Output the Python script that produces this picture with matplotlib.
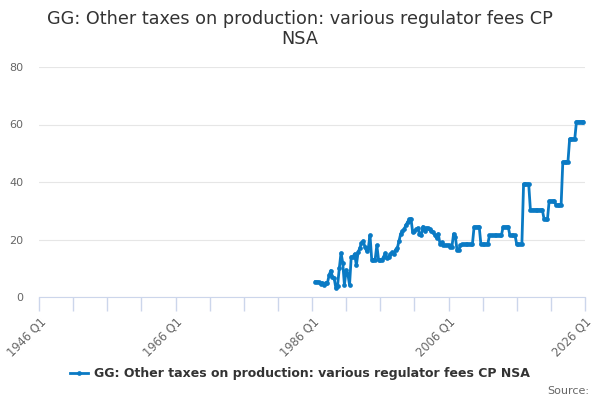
import matplotlib
matplotlib.use("Agg")
import matplotlib.pyplot as plt
from matplotlib.lines import Line2D
import numpy as np

title = "GG: Other taxes on production: various regulator fees CP\nNSA"
series_name = "GG: Other taxes on production: various regulator fees CP NSA"
start_year = 1986
start_quarter = 3

values = [
    5.3, 5.3, 5.2, 4.5, 5.0, 4.2, 5.0, 4.8, 7.5, 9.2,
    7.0, 6.5, 3.0, 4.0, 10.0, 15.3, 12.0, 4.2, 9.4, 8.0,
    4.2, 14.0, 14.0, 15.0, 11.0, 15.5, 17.0, 18.8, 19.5, 17.5,
    16.0, 17.0, 21.5, 13.0, 13.0, 13.0, 18.0, 13.0, 13.0, 13.0,
    14.0, 15.3, 13.5, 14.0, 15.0, 15.5, 15.0, 16.5, 17.0, 19.5,
    22.0, 23.0, 23.5, 25.0, 26.0, 27.0, 27.3, 22.5, 23.0, 23.5,
    24.0, 22.0, 21.5, 24.5, 23.0, 24.0, 24.0, 23.5, 23.0, 22.5,
    21.5, 20.5, 22.0, 18.5, 19.0, 18.0, 18.0, 18.0, 18.0, 17.5,
    17.5, 22.0, 21.0, 16.3,
    16.3, 18.0, 18.3, 18.3, 18.3, 18.3, 18.3, 18.3, 18.3,
    24.4, 24.4, 24.4, 24.4,
    18.3, 18.3, 18.3, 18.3, 18.3,
    21.4, 21.4, 21.4, 21.4, 21.4, 21.4, 21.4, 21.4,
    24.4, 24.4, 24.4, 24.4,
    21.4, 21.4, 21.4, 21.4,
    18.3, 18.3, 18.3, 18.3,
    39.3, 39.3, 39.3, 39.3,
    30.3, 30.3, 30.3, 30.3, 30.3, 30.3, 30.3, 30.3,
    27.1, 27.1, 27.1,
    33.4, 33.4, 33.4, 33.4,
    32.0, 32.0, 32.0, 32.0,
    47.0, 47.0, 47.0, 47.0,
    55.0, 55.0, 55.0, 55.0,
    61.0, 61.0, 61.0, 61.0, 61.0,
]
x_tick_years = [1946, 1966, 1986, 2006, 2026]
y_ticks = [0, 20, 40, 60, 80]

x = start_year + (start_quarter - 1) / 4 + np.arange(len(values)) / 4

color = "#0a7ac4"
fig = plt.figure(figsize=(6, 4), dpi=100)
ax = fig.add_axes([0.065, 0.2575, 0.91, 0.575])
ax.plot(x, values, color=color, lw=2, marker="o", ms=3.4, mew=0)

ax.set_xlim(1946, 2026)
ax.set_ylim(0, 80)
ax.set_yticks(y_ticks)
ax.set_yticklabels([str(v) for v in y_ticks], color="#666666", fontsize=8)
ax.yaxis.grid(True, color="#e6e6e6", lw=0.8)
ax.set_axisbelow(True)
ax.tick_params(axis="y", length=0, pad=11)

ax.set_xticks(np.arange(1946, 2027, 5), minor=True)
ax.set_xticks(x_tick_years)
ax.set_xticklabels([f"{y} Q1" for y in x_tick_years], rotation=45, ha="right",
                   rotation_mode="anchor", color="#666666", fontsize=8.3)
ax.tick_params(axis="x", which="both", length=10, color="#ccd6eb", width=1, pad=3)
for s in ["top", "right", "left"]:
    ax.spines[s].set_visible(False)
ax.spines["bottom"].set_color("#ccd6eb")

fig.text(0.5, 0.975, title, ha="center", va="top", fontsize=12.7, color="#333333",
         linespacing=1.15)

handle = Line2D([0], [0], color=color, lw=2, marker="o", ms=3.4, mew=0)
leg = fig.legend([handle], [series_name], loc="center", bbox_to_anchor=(0.5, 0.065),
                 frameon=False, fontsize=9, handlelength=1.4, handletextpad=0.5)
for t in leg.get_texts():
    t.set_color("#333333")
    t.set_fontweight("bold")
fig.text(0.982, 0.022, "Source:", ha="right", va="center", fontsize=8, color="#666666")

fig.savefig("out.png", dpi=100)
